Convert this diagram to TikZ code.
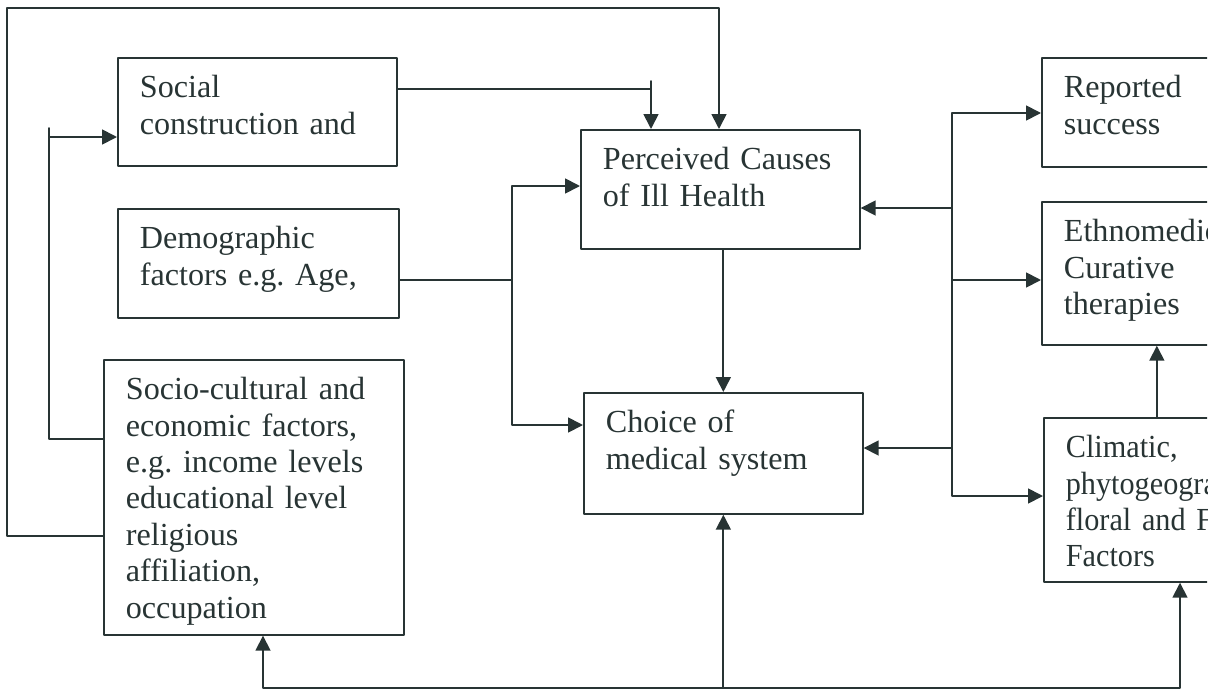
\documentclass[tikz,border=0pt]{standalone}
\usepackage{fontspec}
\setmainfont{Liberation Serif}
\newfontfamily\narrowserif[FakeStretch=0.94]{Liberation Serif}
\usetikzlibrary{arrows.meta}
\definecolor{ink}{RGB}{40,52,52}
\frenchspacing
\tikzset{
  box/.style 2 args={draw, anchor=north west, align=left, inner xsep=0.44cm, inner ysep=0pt,
    text width=#1cm, text height=0.8cm, text depth=#2cm,
    font=\fontsize{18.3}{20.7}\selectfont}
}

\begin{document}
\begin{tikzpicture}[line cap=round,line join=round,>={Triangle[length=8.5pt,width=8.5pt]},x=0.02cm,y=-0.02cm,color=ink,line width=1pt]
    \useasboundingbox (0,0) rectangle (1218,690);

    % boxes
    \node[box={4.70}{1.36}] (soc) at (117,57) {Social\\construction and};
    \node[box={4.74}{1.38}] (dem) at (117,208) {Demographic\\factors e.g. Age,};
    \node[box={5.12}{4.70}] (scf) at (103,359) {Socio-cultural and\\economic factors,\\e.g. income levels\\educational level\\religious\\affiliation,\\occupation};
    \node[box={4.70}{1.58}] (pcs) at (580,129) {Perceived Causes\\of Ill Health};
    \node[box={4.70}{1.62}] (cms) at (583,392) {Choice of\\medical system};
    \begin{scope}
        \clip (0,0) rectangle (1207,690);
        \node[box={4.32}{1.38}] (rep) at (1041,57) {Reported\\success};
        \node[box={4.32}{2.06}] (eth) at (1041,201) {Ethnomedic\\Curative\\therapies};
        \node[box={3.64}{2.48}] (cli) at (1043,417) {\narrowserif Climatic,\\phytogeogra\\floral and Fa\\Factors};
    \end{scope}

    % bends
    \coordinate (tk) at (651,81);
    \coordinate (jn) at (651,89);
    \coordinate (oa) at (7,536);
    \coordinate (lx) at (719,8);
    \coordinate (ia) at (49,439);
    \coordinate (ib) at (49,128);
    \coordinate (ic) at (49,137);
    \coordinate (da) at (512,280);
    \coordinate (db) at (512,186);
    \coordinate (dc) at (512,425);
    \coordinate (ra) at (952,113);
    \coordinate (rb) at (952,496);
    \coordinate (rc) at (952,208);
    \coordinate (rd) at (952,280);
    \coordinate (re) at (952,448);
    \coordinate (b1) at (263,688);
    \coordinate (b2) at (1180,688);

    % left side
    \draw (soc.east |- jn) -- (jn);
    \draw[->] (tk) -- (pcs.north -| tk);
    \draw[->] (scf.west |- oa) -- (oa) |- (lx) -- (pcs.north -| lx);
    \draw (scf.west |- ia) -- (ia) -- (ib);
    \draw[->] (ic) -- (soc.west |- ic);
    \draw (dem.east |- da) -- (da);
    \draw[<->] (pcs.west |- db) -- (db) -- (dc) -- (cms.west |- dc);
    \draw[->] (cms.north |- pcs.south) -- (cms.north);

    % right side
    \draw[<->] (rep.west |- ra) -- (ra) -- (rb) -- (cli.west |- rb);
    \foreach \src/\tgt/\side in {rc/pcs/east, rd/eth/west, re/cms/east} {
        \draw[->] (\src) -- (\tgt.\side |- \src);
    }
    \draw[->] (cli.north) -- (eth.south -| cli.north);

    % bottom
    \draw[<->] (scf.south -| b1) -- (b1) -- (b2) -- (cli.south -| b2);
    \draw[->] (cms.south |- b1) -- (cms.south);
\end{tikzpicture}
\end{document}
